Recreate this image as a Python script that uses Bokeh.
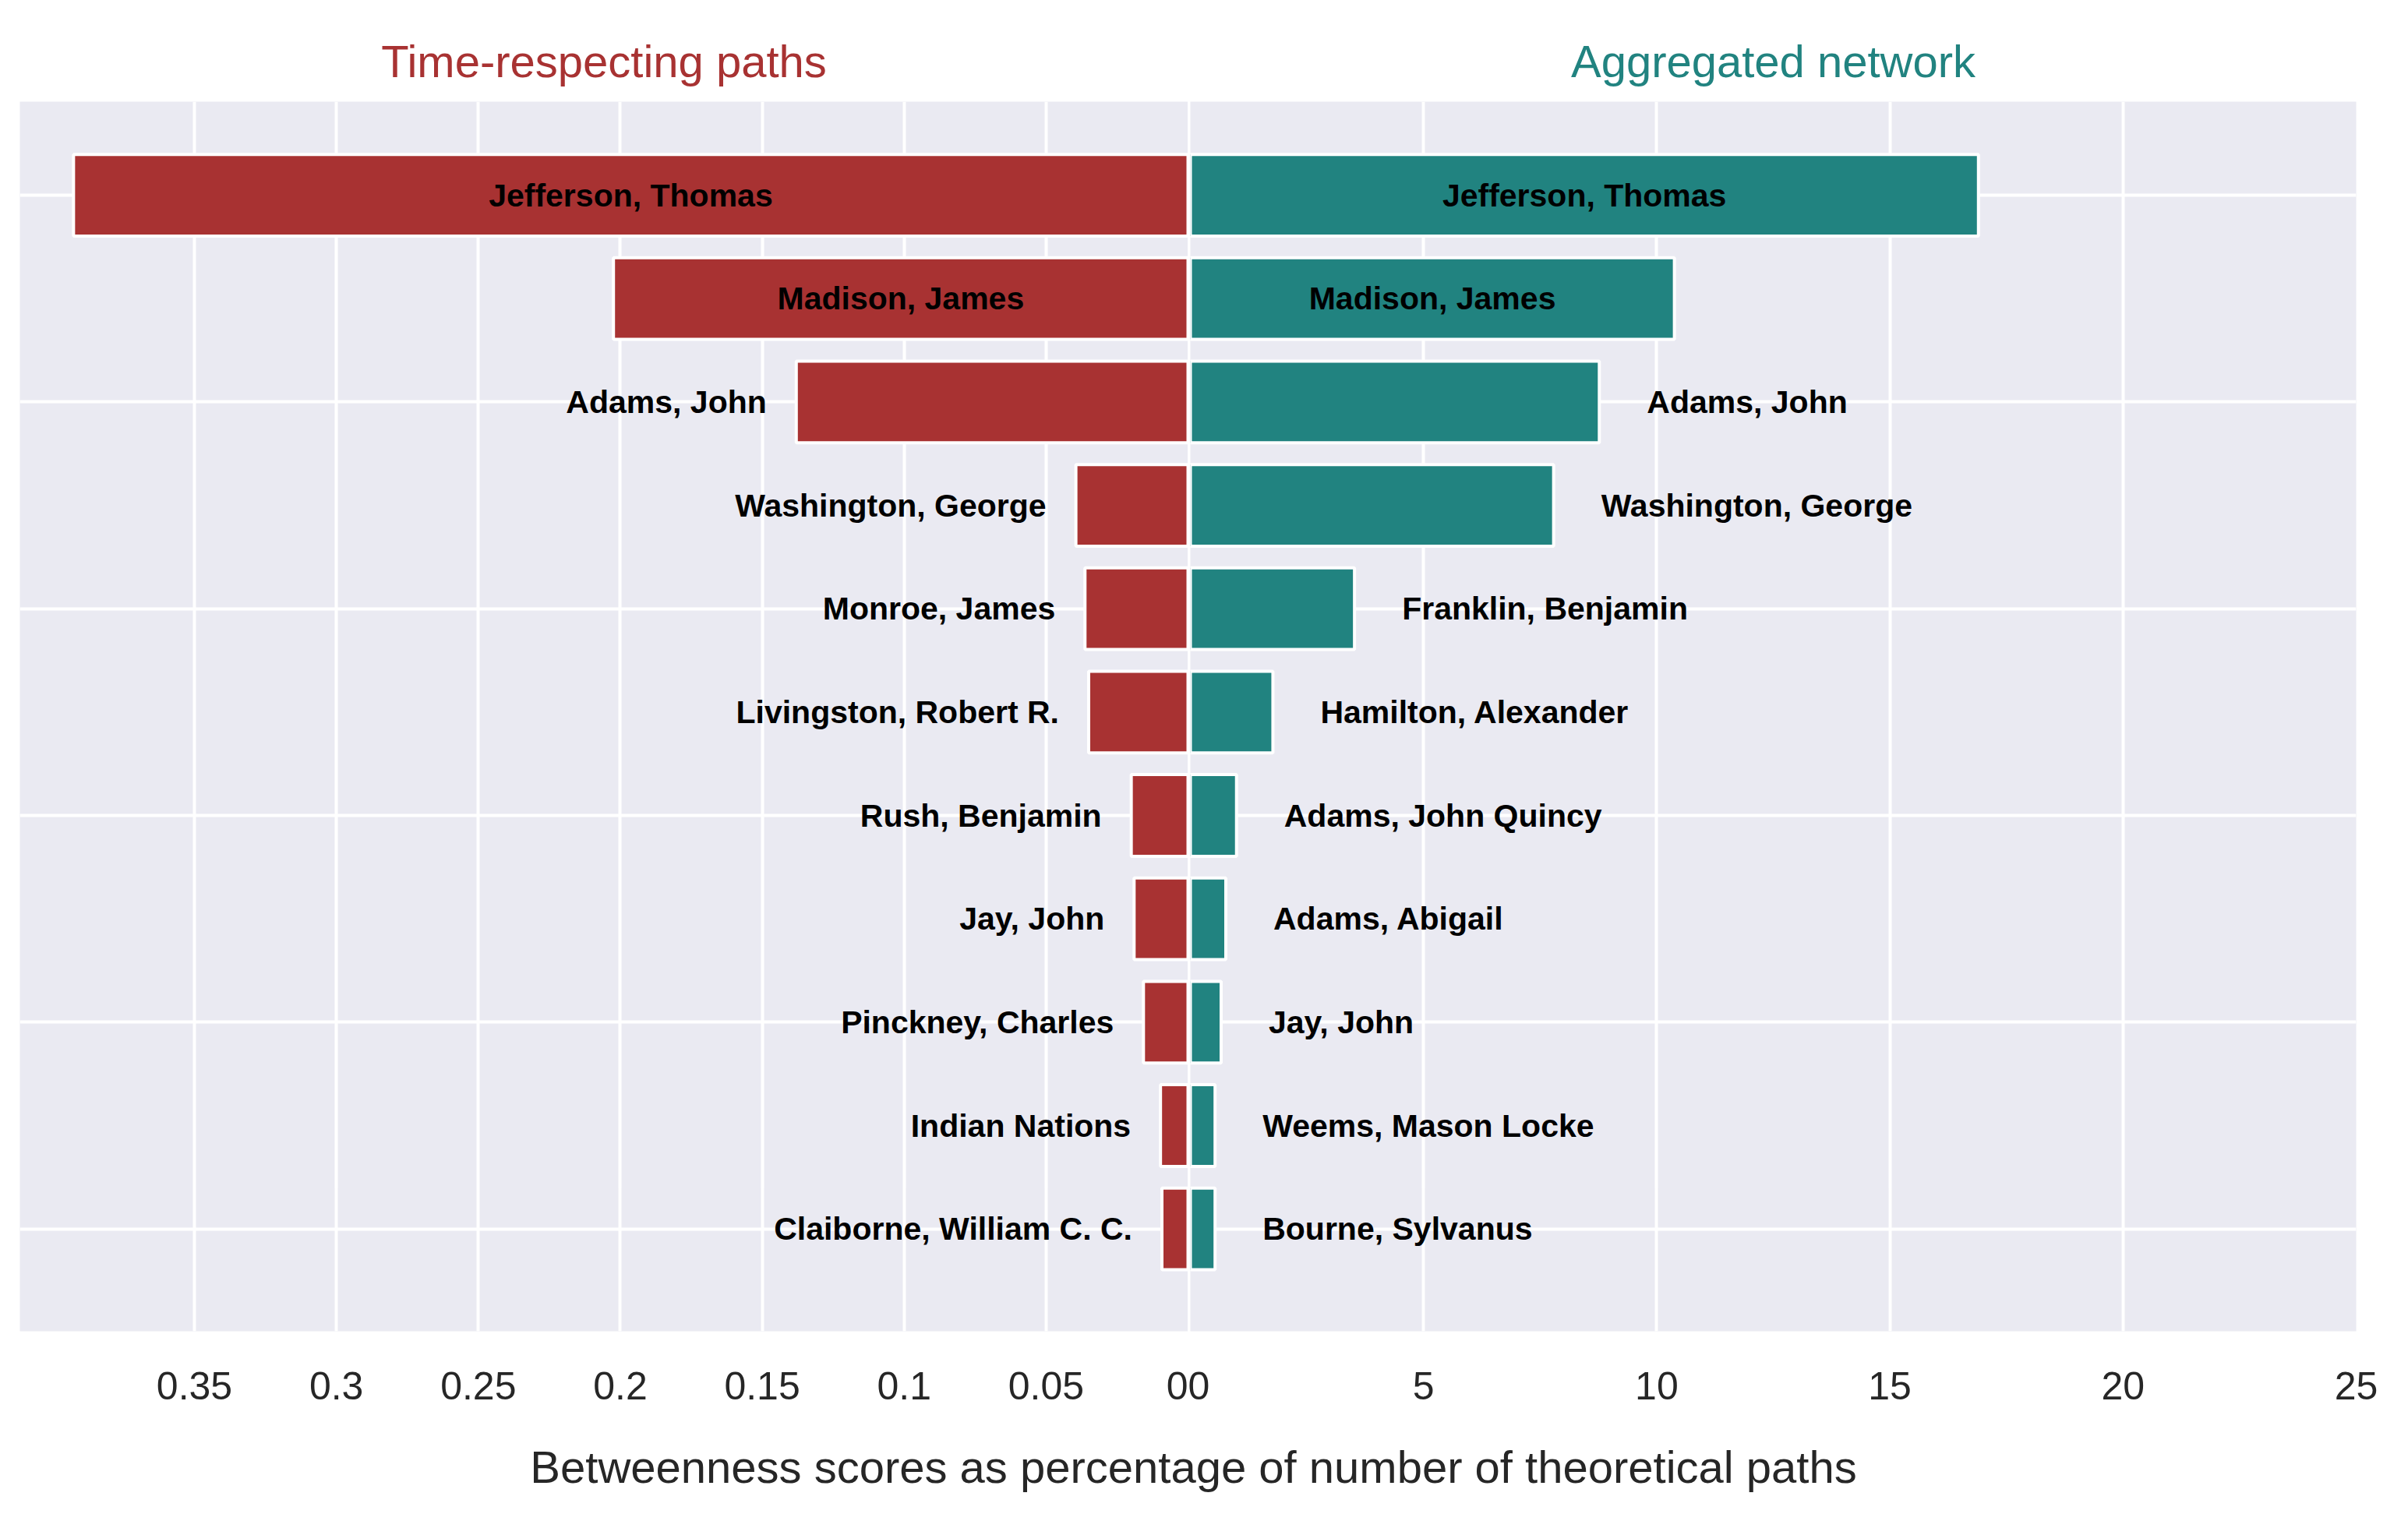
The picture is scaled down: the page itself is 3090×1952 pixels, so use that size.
from bokeh.plotting import figure
from bokeh.layouts import row, column
from bokeh.models import Range1d, FixedTicker, Div, ColumnDataSource
from bokeh.core.properties import value
from bokeh.embed import file_html
from bokeh.resources import INLINE

left_names = ["Jefferson, Thomas", "Madison, James", "Adams, John", "Washington, George",
              "Monroe, James", "Livingston, Robert R.", "Rush, Benjamin", "Jay, John",
              "Pinckney, Charles", "Indian Nations", "Claiborne, William C. C."]
left_values = [0.3926, 0.2024, 0.138, 0.0395, 0.0363, 0.035, 0.020, 0.019, 0.0157, 0.0097, 0.0092]
right_names = ["Jefferson, Thomas", "Madison, James", "Adams, John", "Washington, George",
               "Franklin, Benjamin", "Hamilton, Alexander", "Adams, John Quincy", "Adams, Abigail",
               "Jay, John", "Weems, Mason Locke", "Bourne, Sylvanus"]
right_values = [16.9, 10.38, 8.77, 7.79, 3.52, 1.77, 0.99, 0.76, 0.66, 0.53, 0.53]
inside_count = 2
left_ticks = [0.35, 0.3, 0.25, 0.2, 0.15, 0.1, 0.05, 0]
right_ticks = [0, 5, 10, 15, 20, 25]

RED = "#A83232"
TEAL = "#218380"
BG = "#EAEAF2"
FONT = "Liberation Sans"
ys = list(range(len(left_names)))

def make(names, vals, color, xr, ticks, title, left_side, width, bl, br):
    p = figure(width=width, height=1818, x_range=xr, y_range=Range1d(10.99, -0.905),
               output_backend="svg", toolbar_location=None, title=title,
               min_border_left=bl, min_border_right=br, min_border_top=130, min_border_bottom=110)
    p.background_fill_color = BG
    p.outline_line_color = None
    p.title.align = "center"
    p.title.text_color = color
    p.title.text_font = FONT
    p.title.text_font_size = "58px"
    p.title.text_font_style = "normal"
    p.title.offset = 0
    p.title.standoff = 40
    p.xgrid.ticker = FixedTicker(ticks=ticks)
    p.ygrid.ticker = FixedTicker(ticks=[0, 2, 4, 6, 8, 10])
    for g in (p.xgrid, p.ygrid):
        g.grid_line_color = "white"
        g.grid_line_width = 4
    p.yaxis.visible = False
    ax = p.xaxis[0]
    ax.ticker = FixedTicker(ticks=ticks)
    ax.major_label_overrides = {t: (str(t) if t != int(t) else str(int(t))) for t in ticks}
    ax.axis_line_color = None
    ax.major_tick_line_color = None
    ax.minor_tick_line_color = None
    ax.major_label_text_font = FONT
    ax.major_label_text_font_size = "50px"
    ax.major_label_text_color = "#262626"
    ax.major_label_standoff = 46
    p.hbar(y=ys, left=0, right=vals, height=0.79, fill_color=color,
           line_color="white", line_width=4)
    inx = [v / 2 for v in vals[:inside_count]]
    p.text(x=inx, y=ys[:inside_count], text=names[:inside_count], text_align="center",
           text_baseline="middle", text_font=value(FONT), text_font_style="bold",
           text_font_size="41px", text_color="black")
    p.text(x=vals[inside_count:], y=ys[inside_count:], text=names[inside_count:],
           text_align="right" if left_side else "left", x_offset=-38 if left_side else 61,
           text_baseline="middle", text_font=value(FONT), text_font_style="bold",
           text_font_size="41px", text_color="black")
    return p

p1 = make(left_names, left_values, RED, Range1d(0.4115, 0), left_ticks,
          "Time-respecting paths", True, 1524, 25, 0)
p2 = make(right_names, right_values, TEAL, Range1d(0, 25), right_ticks,
          "Aggregated network", False, 1529, 3, 30)

label = Div(text="Betweenness scores as percentage of number of theoretical paths",
            width=3053, height=120,
            styles={"text-align": "center", "font-family": FONT, "font-size": "58px",
                    "color": "#262626", "line-height": "120px", "width": "3053px"})

layout = column(row(p1, p2, spacing=0), label, spacing=0)
open("out.html", "w").write(file_html(layout, INLINE))
